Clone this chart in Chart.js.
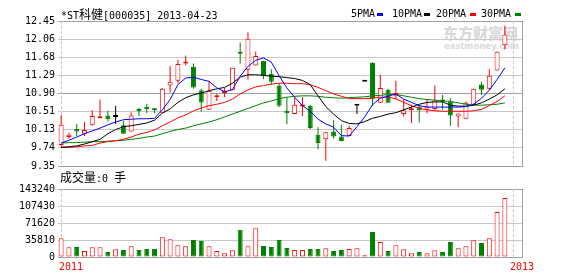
<!DOCTYPE html>
<html><head><meta charset="utf-8">
<script src="https://cdn.jsdelivr.net/npm/chart.js@4.4.1/dist/chart.umd.min.js"></script>
<style>
html,body{margin:0;padding:0;background:#fff;width:578px;height:276px;overflow:hidden;position:relative;}
.t{position:absolute;white-space:nowrap;font-family:"DejaVu Sans Mono",monospace;font-size:10px;color:#000;line-height:12px;}
.cjk{font-family:"Noto Sans CJK SC",sans-serif;font-size:12px;line-height:12px;}
canvas{position:absolute;left:0;}
.dash{position:absolute;width:6px;height:3px;}
</style></head><body>
<div class="t" style="left:443px;top:24px;font-family:'Noto Sans CJK SC';font-weight:bold;font-size:15px;line-height:18px;color:#d6d6d6;">东方财富网</div>
<div class="t" style="left:444px;top:41px;font-family:'DejaVu Sans';font-weight:bold;font-size:8.5px;line-height:10px;color:#dadada;">eastmoney.com</div>
<canvas id="pc" width="578" height="178" style="top:0;width:578px;height:178px"></canvas>
<canvas id="vc" width="578" height="100" style="top:176px;width:578px;height:100px"></canvas>
<div class="t" style="left:61px;top:8px">*ST<span class="cjk">科健</span>[000035] 2013-04-23</div>
<div class="t" style="left:351px;top:8px">5PMA</div><div class="dash" style="left:377px;top:13px;background:#0000ff"></div>
<div class="t" style="left:392px;top:8px">10PMA</div><div class="dash" style="left:424px;top:13px;background:#000000"></div>
<div class="t" style="left:436px;top:8px">20PMA</div><div class="dash" style="left:470px;top:13px;background:#ff0000"></div>
<div class="t" style="left:481px;top:8px">30PMA</div><div class="dash" style="left:515px;top:13px;background:#008000"></div>
<div class="t" style="left:60px;top:171px"><span class="cjk">成交量</span>:0 <span class="cjk">手</span></div>
<div class="t" style="left:59px;top:261px;color:#ff0000">2011</div>
<div class="t" style="left:510px;top:261px;color:#ff0000">2013</div>
<script>
// ---- data ----
const categories = [0,1,2,3,4,5,6,7,8,9,10,11,12,13,14,15,16,17,18,19,20,21,22,23,24,25,26,27,28,29,30,31,32,33,34,35,36,37,38,39,40,41,42,43,44,45,46,47,48,49,50,51,52,53,54,55,56,57];
const openP  = [9.80,9.97,10.14,10.04,10.23,10.37,10.43,10.40,10.22,10.09,10.57,10.62,10.57,10.49,11.07,11.17,11.54,11.47,10.97,10.55,10.82,10.91,10.97,11.77,11.41,11.50,11.60,11.32,11.07,10.53,10.46,10.62,10.64,10.02,9.92,10.09,9.98,9.99,10.64,11.15,11.55,10.70,10.98,10.85,10.46,10.54,10.62,10.55,10.57,10.77,10.73,10.41,10.36,10.66,11.09,11.00,11.39,11.93];
const highP  = [10.44,10.06,10.25,10.29,10.54,10.77,10.53,10.64,10.32,10.50,10.59,10.68,10.59,11.02,11.48,11.62,11.71,11.54,11.00,11.16,10.89,11.02,11.45,11.99,12.21,11.80,11.60,11.42,11.12,10.82,10.82,10.82,10.66,10.18,10.07,10.34,10.23,10.21,10.64,11.15,11.57,11.30,11.00,11.17,10.77,10.66,10.66,10.77,11.07,10.87,10.80,10.47,10.73,11.00,11.15,11.42,11.80,12.35];
const lowP   = [9.76,9.93,9.99,9.99,10.21,10.37,10.30,10.25,10.04,10.09,10.42,10.48,10.48,10.49,10.92,11.12,11.50,11.00,10.51,10.55,10.74,10.82,10.97,11.54,11.20,11.50,11.21,11.10,10.61,10.24,10.46,10.42,10.14,9.71,9.46,9.94,9.88,9.99,10.46,11.15,10.64,10.70,10.70,10.77,10.41,10.27,10.28,10.48,10.54,10.55,10.21,10.18,10.36,10.66,10.87,10.97,11.39,11.84];
const closeP = [10.23,10.02,10.09,10.12,10.42,10.40,10.35,10.40,10.04,10.43,10.52,10.57,10.54,11.00,11.15,11.53,11.56,11.03,10.71,10.96,10.85,10.94,11.45,11.75,12.07,11.70,11.27,11.15,10.64,10.48,10.66,10.64,10.16,9.84,10.07,9.98,9.88,10.16,10.64,11.15,10.79,11.02,10.70,10.91,10.54,10.56,10.54,10.62,10.75,10.73,10.43,10.47,10.70,11.00,10.98,11.28,11.79,12.16];
const volume = [39500,20500,21200,12700,20500,20500,10600,16200,14800,22600,14800,16900,16900,41600,37400,24700,22600,36000,33900,22600,12700,7800,14100,57200,22600,60700,23300,21200,36000,19100,14800,14800,16900,16900,18300,12700,14800,16900,18300,3500,52900,31800,12700,24700,16200,7800,10600,7800,14100,10600,31800,18300,22600,35300,29600,39500,94600,124200];
const ma5  = [9.84,9.90,9.97,10.04,10.10,10.16,10.23,10.29,10.34,10.35,10.36,10.36,10.37,10.55,10.77,11.09,11.23,11.25,11.20,11.16,11.02,10.94,10.98,11.27,11.48,11.61,11.66,11.57,11.28,11.02,10.82,10.64,10.52,10.35,10.25,10.18,10.00,9.99,10.19,10.40,10.66,10.80,10.84,10.89,10.78,10.71,10.64,10.61,10.61,10.61,10.61,10.61,10.62,10.67,10.80,10.97,11.20,11.45];
const ma10 = [9.75,9.76,9.78,9.82,9.87,9.92,10.04,10.13,10.19,10.21,10.24,10.27,10.33,10.48,10.57,10.71,10.81,10.87,10.91,10.96,11.00,11.03,11.12,11.25,11.30,11.30,11.29,11.27,11.26,11.24,11.22,11.18,11.09,10.85,10.62,10.46,10.32,10.26,10.25,10.30,10.37,10.41,10.46,10.49,10.55,10.61,10.67,10.71,10.72,10.72,10.65,10.63,10.63,10.65,10.70,10.78,10.87,11.00];
const ma20 = [9.75,9.75,9.76,9.78,9.79,9.84,9.87,9.89,9.92,9.97,10.03,10.07,10.12,10.21,10.29,10.38,10.44,10.53,10.59,10.64,10.67,10.71,10.78,10.89,10.98,11.04,11.07,11.10,11.12,11.12,11.11,11.11,11.09,11.03,10.96,10.89,10.84,10.79,10.79,10.79,10.80,10.82,10.82,10.79,10.71,10.64,10.58,10.55,10.53,10.52,10.52,10.52,10.52,10.53,10.56,10.64,10.73,10.85];
const ma30 = [9.84,9.85,9.85,9.86,9.87,9.87,9.88,9.89,9.90,9.92,9.94,9.97,9.99,10.04,10.09,10.13,10.16,10.21,10.25,10.29,10.34,10.40,10.46,10.52,10.58,10.64,10.70,10.74,10.79,10.82,10.84,10.85,10.85,10.84,10.82,10.81,10.80,10.81,10.82,10.83,10.85,10.86,10.88,10.88,10.85,10.82,10.79,10.77,10.76,10.74,10.73,10.70,10.67,10.65,10.65,10.66,10.67,10.70];
const priceTicks  = [9.35,9.74,10.13,10.51,10.90,11.29,11.68,12.06,12.45];
const volumeTicks = [0,35810,71620,107430,143240];
const markerDays  = [0,58];

// ---- styling ----
const UP='#ff0000', DOWN='#008000', FLAT='#000000';
const dir = i => closeP[i] > openP[i] ? 1 : (closeP[i] < openP[i] ? -1 : 0);
const candleColor = i => dir(i) > 0 ? UP : (dir(i) < 0 ? DOWN : FLAT);
const bodyFill = i => dir(i) > 0 ? '#ffffff' : candleColor(i);
const volColor = i => closeP[i] >= openP[i] ? UP : DOWN;
const volFill = i => closeP[i] >= openP[i] ? '#ffffff' : DOWN;
const FONT = {family:'DejaVu Sans Mono', size:10};

const framePlugin = {
  id:'frame',
  beforeDatasetsDraw(chart){
    const {ctx, chartArea:a, scales:{x}} = chart;
    ctx.save();
    ctx.lineWidth = 1;
    ctx.strokeStyle = '#c8c8c8';
    ctx.setLineDash([3,2]);
    markerDays.forEach(v => {
      const px = Math.round(x.getPixelForValue(v)) + 0.5;
      ctx.beginPath(); ctx.moveTo(px, a.top); ctx.lineTo(px, a.bottom); ctx.stroke();
    });
    ctx.setLineDash([]);
    ctx.strokeStyle = '#a0a0a0';
    const rx = Math.round(a.right) + 0.5;
    ctx.beginPath(); ctx.moveTo(rx, a.top); ctx.lineTo(rx, a.bottom + 1); ctx.stroke();
    ctx.restore();
  }
};

const xScale = {type:'linear', min:-0.4, max:59.2, display:false, offset:false, bounds:'data', grid:{offset:false}, ticks:{display:false}};

function yScale(min, max, ticks, fmt, mid){
  return {
    min, max,
    afterFit: s => { s.width = 58; },
    afterBuildTicks: s => { s.ticks = ticks.map(v => ({value:v})); },
    border:{display:false},
    grid:{drawTicks:false, lineWidth:1,
      color: c => (c.tick && (c.tick.value === min || c.tick.value === max || c.tick.value === mid)) ? '#a0a0a0' : '#c8c8c8'},
    ticks:{padding:3, autoSkip:false, color:'#000', font:FONT, callback: fmt}
  };
}

const commonOpts = {
  responsive:false, animation:false, devicePixelRatio:1,
  plugins:{legend:{display:false}, tooltip:{enabled:false}},
  events:[]
};

const lineDs = (label, arr, color) => ({
  type:'line', label, data: categories.map((d,i)=>({x:d, y:arr[i]})),
  borderColor:color, borderWidth:1, pointRadius:0, tension:0, order:0
});

new Chart(document.getElementById('pc'), {
  type:'bar',
  data:{datasets:[
    lineDs('5PMA', ma5, '#0000ff'),
    lineDs('10PMA', ma10, '#000000'),
    lineDs('20PMA', ma20, '#ff0000'),
    lineDs('30PMA', ma30, '#008000'),
    {type:'bar', label:'body', data: categories.map((d,i)=>({x:d, y:[openP[i], closeP[i]]})),
     backgroundColor: categories.map((d,i)=>bodyFill(i)), borderColor: categories.map((d,i)=>candleColor(i)),
     borderWidth:1, borderSkipped:false, grouped:false, maxBarThickness:5, minBarLength:2, order:1},
    {type:'bar', label:'wick', data: categories.map((d,i)=>({x:d, y:[lowP[i], highP[i]]})),
     backgroundColor: categories.map((d,i)=>candleColor(i)), borderWidth:0, grouped:false, maxBarThickness:1, order:2}
  ]},
  options:Object.assign({}, commonOpts, {
    layout:{padding:{top:21, right:56, bottom:12, left:0}},
    scales:{ x:xScale, y:yScale(9.35, 12.45, priceTicks, v => Number(v).toFixed(2), 10.90) }
  }),
  plugins:[framePlugin]
});

new Chart(document.getElementById('vc'), {
  type:'bar',
  data:{datasets:[
    {label:'成交量', data: categories.map((d,i)=>({x:d, y:volume[i]})),
     backgroundColor: categories.map((d,i)=>volFill(i)), borderColor: categories.map((d,i)=>volColor(i)),
     borderWidth:1, borderSkipped:false, grouped:false, maxBarThickness:5}
  ]},
  options:Object.assign({}, commonOpts, {
    layout:{padding:{top:13, right:56, bottom:19, left:0}},
    scales:{ x:xScale, y:yScale(0, 143240, volumeTicks, v => String(v), -1) }
  }),
  plugins:[framePlugin]
});
</script>
</body></html>
